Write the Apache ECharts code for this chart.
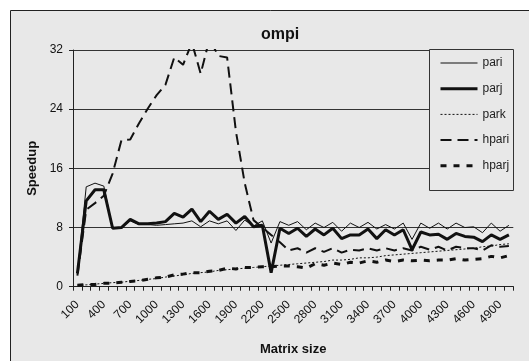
<!DOCTYPE html>
<html><head><meta charset="utf-8">
<script src="https://cdn.jsdelivr.net/npm/echarts@6/dist/echarts.min.js"></script>
<style>html,body{margin:0;padding:0;background:#fff}#c{width:529px;height:361px}</style>
</head><body><div id="c"></div>
<script>
var categories = [];
for (var s = 100; s <= 5000; s += 100) categories.push(String(s));

var pari = [1.8,13.5,14.0,13.6,7.9,8.0,8.9,8.4,8.4,8.3,8.4,8.5,8.6,8.9,8.1,8.9,8.5,8.9,7.6,9.0,
            8.2,8.9,5.9,8.8,8.3,8.8,7.7,8.6,8.0,8.7,7.5,8.6,8.0,8.7,7.8,8.4,7.8,8.6,6.4,8.6,
            7.9,8.6,7.8,8.6,8.0,8.1,7.3,8.6,7.5,8.3];
var parj = [1.8,11.6,13.1,13.1,7.9,8.0,9.1,8.5,8.5,8.6,8.8,9.9,9.4,10.5,8.8,10.2,9.1,9.8,8.6,9.5,
            8.1,8.3,1.9,7.9,7.2,7.9,6.8,7.8,7.0,7.9,6.5,7.0,7.0,7.8,6.5,7.7,7.0,7.7,5.0,7.4,
            7.0,7.1,6.4,7.2,6.8,6.7,6.1,7.0,6.4,7.0];
var park = [0.2,0.25,0.35,0.45,0.55,0.6,0.75,0.85,1.0,1.1,1.3,1.45,1.6,1.8,1.9,2.0,2.2,2.3,2.4,2.5,
            2.6,2.7,2.8,2.9,3.0,3.1,3.2,3.3,3.4,3.6,3.6,3.7,3.9,3.9,4.0,4.2,4.3,4.4,4.5,4.6,
            4.7,4.8,4.9,5.0,5.1,5.2,5.4,5.5,5.7,5.8];
var hpari = [1.5,10.4,11.3,12.3,15.3,19.8,19.9,22.1,24.1,25.9,27.3,31.0,30.0,33.0,28.8,33.5,31.2,31.0,21.0,14.0,
             9.0,8.0,7.0,6.0,4.9,5.2,4.6,5.2,4.7,5.2,4.6,5.0,4.9,5.2,4.9,5.2,4.9,5.2,4.9,5.4,
             5.0,5.4,4.9,5.4,5.2,5.2,4.9,5.6,5.4,5.5];
var hparj = [0.2,0.3,0.3,0.45,0.5,0.6,0.7,0.8,1.0,1.2,1.3,1.6,1.7,1.9,1.9,2.1,2.2,2.5,2.4,2.6,
             2.6,2.7,2.7,2.8,2.8,2.7,2.5,3.1,2.9,3.2,3.0,3.3,3.2,3.5,3.3,3.6,3.4,3.6,3.5,3.6,
             3.5,3.6,3.6,3.8,3.6,3.7,3.8,4.1,3.9,4.2];
var yTicks = [0, 8, 16, 24, 32];

var chart = echarts.init(document.getElementById('c'), null, {renderer: 'canvas'});
var FONT = 'Liberation Sans, Arial, sans-serif';
var styles = {
  pari: {width: 1, type: 'solid'},
  parj: {width: 3, type: 'solid'},
  park: {width: 1, type: [2, 2]},
  hpari: {width: 2, type: [11, 6]},
  hparj: {width: 3, type: [6, 7]}
};
function line(name, data) {
  return {
    name: name, type: 'line', data: data, symbol: 'none', clip: true,
    lineStyle: {color: '#111', width: styles[name].width, type: styles[name].type},
    itemStyle: {color: '#111'}, emphasis: {disabled: true}, animation: false
  };
}
var names = ['pari', 'parj', 'park', 'hpari', 'hparj'];
chart.setOption({
  backgroundColor: '#fff',
  animation: false,
  graphic: [
    {type: 'rect', z: 0, silent: true, shape: {x: 10.5, y: 10.5, width: 540, height: 380},
     style: {fill: '#e8e8e8', stroke: '#222', lineWidth: 1}},
    {type: 'rect', z: 50, silent: true, shape: {x: 429.5, y: 49.5, width: 84, height: 141},
     style: {fill: '#e8e8e8', stroke: '#333', lineWidth: 1}}
  ],
  title: {
    text: 'ompi', left: 275, top: 22, textAlign: 'center',
    textStyle: {fontFamily: FONT, fontSize: 16, fontWeight: 'bold', color: '#111'}
  },
  legend: {
    orient: 'vertical', left: 429, top: 50, z: 60,
    padding: [7, 6, 7, 10], itemGap: 13.7, itemWidth: 37, itemHeight: 14,
    itemStyle: {opacity: 0},
    textStyle: {fontFamily: FONT, fontSize: 12, color: '#222'},
    data: names.map(function (n) {
      return {name: n, lineStyle: {color: '#111', width: styles[n].width, type: styles[n].type}};
    }),
    selectedMode: false
  },
  grid: {left: 73, right: 15.7, top: 50, bottom: 74.3, show: true,
         borderColor: '#888', borderWidth: 1, backgroundColor: 'transparent'},
  xAxis: {
    type: 'category', data: categories, boundaryGap: true,
    name: 'Matrix size', nameLocation: 'middle', nameGap: 56,
    nameTextStyle: {fontFamily: FONT, fontSize: 13, fontWeight: 'bold', color: '#111'},
    axisLine: {lineStyle: {color: '#222', width: 1}},
    axisTick: {show: true, interval: 0, length: 4, inside: false, lineStyle: {color: '#222'}},
    axisLabel: {interval: 2, rotate: 45, margin: 16, fontFamily: FONT, fontSize: 12, color: '#111'},
    splitLine: {show: false}
  },
  yAxis: {
    type: 'value', min: yTicks[0], max: yTicks[yTicks.length - 1], interval: yTicks[1] - yTicks[0],
    name: 'Speedup', nameLocation: 'middle', nameGap: 26, nameRotate: 90,
    nameTextStyle: {fontFamily: FONT, fontSize: 13, fontWeight: 'bold', color: '#111'},
    axisLine: {show: true, lineStyle: {color: '#222', width: 1}},
    axisTick: {show: true, length: 4, lineStyle: {color: '#222'}},
    axisLabel: {margin: 10, fontFamily: FONT, fontSize: 12, color: '#111'},
    splitLine: {show: true, lineStyle: {color: '#333', width: 1}}
  },
  series: names.map(function (n) {
    return line(n, {pari: pari, parj: parj, park: park, hpari: hpari, hparj: hparj}[n]);
  })
});
</script></body></html>
